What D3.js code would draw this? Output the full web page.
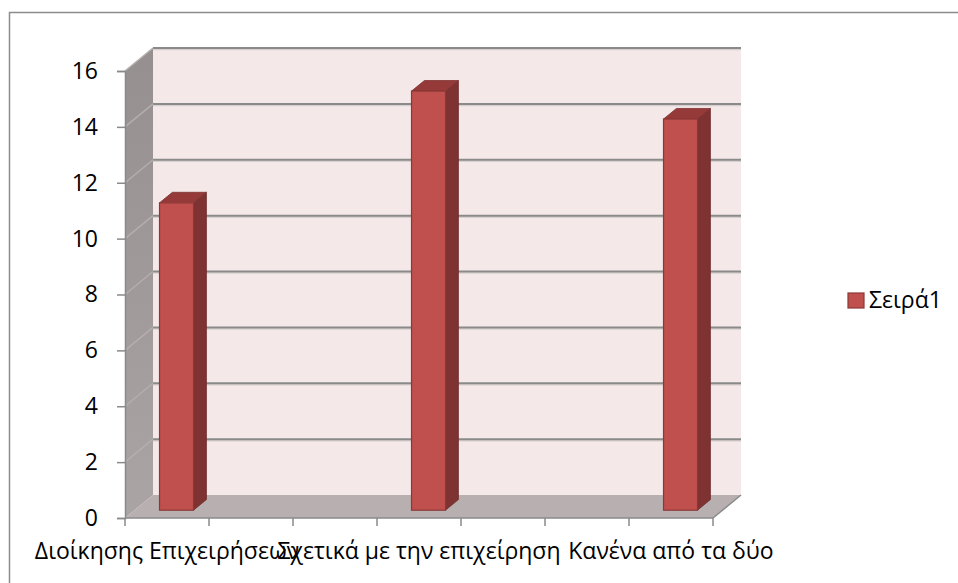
<!DOCTYPE html>
<html>
<head>
<meta charset="utf-8">
<script src="https://cdn.jsdelivr.net/npm/d3@7"></script>
<style>
  html, body { margin: 0; padding: 0; background: #fff; }
  svg text { font-family: "Open Sans", "Noto Sans", sans-serif; fill: #000; }
</style>
</head>
<body>
<div id="chart"></div>
<script>
// Excel-style 3D column chart, one series, blank rows between categories
const categories = ['Διοίκησης Επιχειρήσεων', '', '', 'Σχετικά με την επιχείρηση', '', '', 'Κανένα από τα δύο'];
const values = [11, null, null, 15, null, null, 14];
const yTicks = [0, 2, 4, 6, 8, 10, 12, 14, 16];
const seriesName = 'Σειρά1';

const W = 958, H = 583;
const DX = 28, DY = -23;              // depth of the plot box
const barF0 = 0.34, barF1 = 0.80;      // bar position inside the depth
const FONT = 23;

const svg = d3.select('#chart').append('svg')
  .attr('width', W).attr('height', H);

// outer chart frame (only top/left visible)
svg.append('rect')
  .attr('x', 9.5).attr('y', 12.5).attr('width', W + 20).attr('height', H + 20)
  .attr('fill', 'none').attr('stroke', '#8c8c8c').attr('stroke-width', 1.5);

const x = d3.scaleBand().domain(d3.range(categories.length)).range([125, 713]);
const y = d3.scaleLinear().domain([0, 16]).range([518, 71]);
const x0 = x.range()[0], x1 = x.range()[1];

const defs = svg.append('defs');
const sideGrad = defs.append('linearGradient').attr('id', 'sideGrad')
  .attr('x1', 0).attr('y1', 0).attr('x2', 0).attr('y2', 1);
sideGrad.append('stop').attr('offset', 0).attr('stop-color', '#958f8f');
sideGrad.append('stop').attr('offset', 1).attr('stop-color', '#aaa4a4');

const pts = a => a.map(p => p.join(',')).join(' ');

// back wall
svg.append('rect')
  .attr('x', x0 + DX).attr('y', y(16) + DY)
  .attr('width', x1 - x0).attr('height', y(0) - y(16))
  .attr('fill', '#f4e8e8');

// side wall
svg.append('polygon')
  .attr('points', pts([[x0, y(16)], [x0 + DX, y(16) + DY], [x0 + DX, y(0) + DY], [x0, y(0)]]))
  .attr('fill', 'url(#sideGrad)');

// floor
svg.append('polygon')
  .attr('points', pts([[x0, y(0)], [x0 + DX, y(0) + DY], [x1 + DX, y(0) + DY], [x1, y(0)]]))
  .attr('fill', '#b8b0b0');

// gridlines on back wall + side wall
const grid = svg.append('g');
yTicks.filter(t => t > 0).forEach(t => {
  grid.append('line')
    .attr('x1', x0 + DX).attr('x2', x1 + DX)
    .attr('y1', y(t) + DY + 1.5).attr('y2', y(t) + DY + 1.5)
    .attr('stroke', '#d8d0d0').attr('stroke-width', 1.5);
  grid.append('line')
    .attr('x1', x0 + DX).attr('x2', x1 + DX)
    .attr('y1', y(t) + DY).attr('y2', y(t) + DY)
    .attr('stroke', '#8a8a8a').attr('stroke-width', 2);
  grid.append('line')
    .attr('x1', x0).attr('x2', x0 + DX)
    .attr('y1', y(t)).attr('y2', y(t) + DY)
    .attr('stroke', '#b4aeae').attr('stroke-width', 1.5);
});

// bars
const data = values.map((v, i) => ({ i, v })).filter(d => d.v != null);
const bw = 34;
const fx = barF0 * DX, fy = barF0 * DY;
const bdx = (barF1 - barF0) * DX, bdy = (barF1 - barF0) * DY;

const bars = svg.append('g').selectAll('g').data(data).join('g');
bars.each(function(d) {
  const g = d3.select(this);
  const left = x(d.i) + x.bandwidth() / 2 - bw / 2 + fx;
  const right = left + bw;
  const top = y(d.v) + fy, bottom = y(0) + fy;
  // side
  g.append('polygon')
    .attr('points', pts([[right, top], [right + bdx, top + bdy], [right + bdx, bottom + bdy], [right, bottom]]))
    .attr('fill', '#7e3231').attr('stroke', '#6e2b2a').attr('stroke-width', 0.8);
  // top
  g.append('polygon')
    .attr('points', pts([[left, top], [left + bdx, top + bdy], [right + bdx, top + bdy], [right, top]]))
    .attr('fill', '#953a38').attr('stroke', '#7e3231').attr('stroke-width', 0.8);
  // front
  g.append('rect')
    .attr('x', left).attr('y', top).attr('width', bw).attr('height', bottom - top)
    .attr('fill', '#c0504d').attr('stroke', '#8c3836').attr('stroke-width', 1.2);
});

// vertical axis
const yAxis = svg.append('g')
  .attr('transform', `translate(${x0},0)`)
  .call(d3.axisLeft(y).tickValues(yTicks).tickSize(8).tickPadding(19));
yAxis.select('.domain').attr('stroke', '#8a8a8a').attr('stroke-width', 1.5);
yAxis.selectAll('.tick line').attr('stroke', '#8a8a8a').attr('stroke-width', 1.5);
yAxis.selectAll('.tick text')
  .style('font-family', '"Open Sans", sans-serif')
  .attr('font-size', FONT).attr('fill', '#000');

// horizontal axis line with boundary ticks
svg.append('line')
  .attr('x1', x0).attr('x2', x1).attr('y1', y(0)).attr('y2', y(0))
  .attr('stroke', '#8a8a8a').attr('stroke-width', 1.5);
svg.append('line')
  .attr('x1', x1).attr('x2', x1 + DX).attr('y1', y(0)).attr('y2', y(0) + DY)
  .attr('stroke', '#8a8a8a').attr('stroke-width', 1.5);
svg.append('g').selectAll('line')
  .data(d3.range(categories.length + 1))
  .join('line')
  .attr('x1', i => x0 + i * x.step()).attr('x2', i => x0 + i * x.step())
  .attr('y1', y(0)).attr('y2', y(0) + 8)
  .attr('stroke', '#8a8a8a').attr('stroke-width', 1.5);

// category labels
svg.append('g').selectAll('text')
  .data(categories.map((c, i) => ({ c, i })).filter(d => d.c))
  .join('text')
  .attr('x', d => x(d.i) + x.bandwidth() / 2)
  .attr('y', 559)
  .attr('text-anchor', 'middle')
  .attr('font-size', FONT)
  .text(d => d.c);

// legend
const legend = svg.append('g').attr('transform', 'translate(848,293)');
legend.append('rect')
  .attr('width', 16).attr('height', 15)
  .attr('fill', '#c0504d').attr('stroke', '#8c3836').attr('stroke-width', 1.2);
legend.append('text')
  .attr('x', 21).attr('y', 15)
  .attr('font-size', FONT)
  .text(seriesName);
</script>
</body>
</html>
